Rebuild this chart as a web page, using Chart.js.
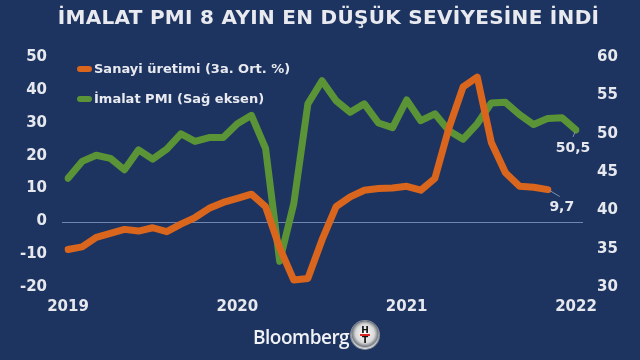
<!DOCTYPE html>
<html>
<head>
<meta charset="utf-8">
<script src="https://cdn.jsdelivr.net/npm/chart.js@4/dist/chart.umd.min.js"></script>
<style>
  html,body{margin:0;padding:0;background:#1d3461;}
  #wrap{position:relative;width:640px;height:360px;background:#1d3461;overflow:hidden;font-family:"DejaVu Sans",Verdana,sans-serif;}
  #title{position:absolute;left:0;top:5px;width:657px;text-align:center;color:#e8eaef;font-weight:bold;font-size:20px;letter-spacing:0.3px;}
  .leg{position:absolute;left:77px;color:#e8eaef;font-weight:bold;font-size:13px;white-space:nowrap;}
  .leg i{display:inline-block;width:15px;height:6px;border-radius:3px;margin-right:2px;vertical-align:middle;position:relative;top:-1px;}
  #bb{position:absolute;left:253px;top:324px;color:#f1f2f5;font-family:"Open Sans",Roboto,sans-serif;font-weight:600;font-size:19px;letter-spacing:-0.5px;}
  #logo{position:absolute;left:351px;top:321px;width:28px;height:28px;border-radius:50%;
    background:radial-gradient(circle at 50% 45%, #ffffff 0%, #d8d8d8 45%, #7a7f86 62%, #e9e9e9 72%, #6b7078 100%);
    box-shadow:0 0 0 1px #8a8f96;}
  #logo span{position:absolute;left:0;width:28px;text-align:center;font-family:"DejaVu Sans",sans-serif;font-weight:bold;font-size:9px;color:#111;line-height:9px;}
  #logo b{position:absolute;left:9px;top:13px;width:10px;height:2px;background:#d22;}
</style>
</head>
<body>
<div id="wrap">
  <canvas id="c" width="640" height="360"></canvas>
  <div id="title">İMALAT PMI 8 AYIN EN DÜŞÜK SEVİYESİNE İNDİ</div>
  <div class="leg" style="top:61px"><i style="background:#d9661c"></i>Sanayi üretimi (3a. Ort. %)</div>
  <div class="leg" style="top:91px"><i style="background:#5b9436"></i>İmalat PMI (Sağ eksen)</div>
  <div id="bb">Bloomberg</div>
  <div id="logo"><span style="top:5px">H</span><b></b><span style="top:15px">T</span></div>
</div>
<script>
const months = [];
const years = [2019, 2020, 2021, 2022];
for (const y of years) for (let m = 1; m <= 12; m++) months.push(y + '-' + String(m).padStart(2, '0'));
const categories = months.slice(0, 37); // 2019-01 .. 2022-01

const sanayiUretimi = [-8.5, -7.7, -4.8, -3.6, -2.4, -2.9, -1.9, -3.1, -0.8, 1.2, 4.0, 5.8,
  7.0, 8.3, 4.5, -8.0, -17.8, -17.3, -5.6, 4.5, 7.5, 9.5, 10.0, 10.2,
  10.7, 9.5, 13.1, 28.5, 40.9, 43.9, 24.0, 14.8, 10.7, 10.4, 9.7];

const imalatPMI = [44.2, 46.4, 47.2, 46.8, 45.3, 47.9, 46.7, 48.0, 50.0, 49.0, 49.5, 49.5,
  51.3, 52.4, 48.1, 33.4, 40.9, 53.9, 56.9, 54.3, 52.8, 53.9, 51.4, 50.8,
  54.4, 51.7, 52.6, 50.4, 49.3, 51.3, 54.0, 54.1, 52.5, 51.2, 52.0, 52.1, 50.5];

const seriesNames = ['Sanayi üretimi (3a. Ort. %)', 'İmalat PMI (Sağ eksen)'];
const endLabels = ['9,7', '50,5'];

const TXT = '#e6e8ee';
const FONT = '"DejaVu Sans", Verdana, sans-serif';

const extras = {
  id: 'extras',
  beforeDatasetsDraw(chart) {
    const ctx = chart.ctx, ya = chart.scales.yL, a = chart.chartArea;
    const y0 = Math.round(ya.getPixelForValue(0)) + 0.5;
    ctx.save();
    ctx.strokeStyle = '#6e86b0';
    ctx.lineWidth = 1;
    ctx.beginPath();
    ctx.moveTo(a.left - 6, y0);
    ctx.lineTo(a.right + 7, y0);
    ctx.stroke();
    ctx.restore();
  },
  afterDatasetsDraw(chart) {
    const ctx = chart.ctx;
    ctx.save();
    ctx.font = 'bold 14px ' + FONT;
    ctx.fillStyle = TXT;
    ctx.textAlign = 'center';
    ctx.textBaseline = 'middle';
    ctx.strokeStyle = '#9aa6bd';
    ctx.lineWidth = 0.8;
    const m0 = chart.getDatasetMeta(0).data;
    const p0 = m0[m0.length - 1];
    ctx.beginPath(); ctx.moveTo(p0.x + 2, p0.y + 1); ctx.lineTo(p0.x + 12, p0.y + 7); ctx.stroke();
    ctx.fillText(endLabels[0], p0.x + 14, p0.y + 18);
    const m1 = chart.getDatasetMeta(1).data;
    const p1 = m1[m1.length - 1];
    ctx.beginPath(); ctx.moveTo(p1.x - 1, p1.y + 2); ctx.lineTo(p1.x - 3, p1.y + 7); ctx.stroke();
    ctx.fillText(endLabels[1], p1.x - 3, p1.y + 18);
    ctx.restore();
  }
};

const tickFont = { family: FONT, weight: 'bold', size: 15 };

new Chart(document.getElementById('c'), {
  type: 'line',
  data: {
    labels: categories,
    datasets: [
      { label: seriesNames[0], data: sanayiUretimi, yAxisID: 'yL', borderColor: '#d9661c', backgroundColor: '#d9661c',
        borderWidth: 7, pointRadius: 0, tension: 0, borderJoinStyle: 'round', borderCapStyle: 'round' },
      { label: seriesNames[1], data: imalatPMI, yAxisID: 'yR', borderColor: '#5b9436', backgroundColor: '#5b9436',
        borderWidth: 7, pointRadius: 0, tension: 0, borderJoinStyle: 'round', borderCapStyle: 'round' }
    ]
  },
  options: {
    responsive: false,
    animation: false,
    events: [],
    layout: { padding: { top: 57, bottom: 0, left: 0, right: 0 } },
    plugins: { legend: { display: false }, tooltip: { enabled: false } },
    scales: {
      x: {
        type: 'category', offset: false,
        grid: { display: false, drawTicks: false }, border: { display: false },
        ticks: { autoSkip: false, maxRotation: 0, minRotation: 0, padding: 11, color: TXT, font: tickFont,
          callback: (v, i) => (i % 12 === 0 ? categories[i].slice(0, 4) : '') },
        afterFit: s => { s.height = 360 - 287.3; }
      },
      yL: {
        position: 'left', min: -20, max: 50,
        grid: { display: false, drawTicks: false }, border: { display: false },
        ticks: { stepSize: 10, padding: 21, color: TXT, font: tickFont },
        afterFit: s => { s.width = 68; }
      },
      yR: {
        position: 'right', min: 30, max: 60,
        grid: { display: false, drawTicks: false }, border: { display: false },
        ticks: { stepSize: 5, padding: 21, color: TXT, font: tickFont },
        afterFit: s => { s.width = 64; }
      }
    }
  },
  plugins: [extras]
});
</script>
</body>
</html>
